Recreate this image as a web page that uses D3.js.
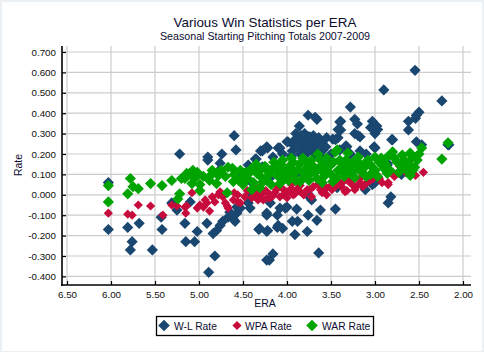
<!DOCTYPE html>
<html>
<head>
<meta charset="utf-8">
<script src="https://cdn.jsdelivr.net/npm/d3@7"></script>
<style>
  body { margin: 0; background: #eaf0f4; }
  svg { display: block; font-family: 'Liberation Sans', Arial, sans-serif; }
</style>
</head>
<body>
<svg id="chart" width="484" height="352"></svg>
<script>
// [ERA, rate] pairs
const wlRate = [
  [4.60,0.29],[5.22,0.20],[4.90,0.185],[4.74,0.20],[4.58,0.22],[4.30,0.215],[4.23,0.235],[4.35,0.175],[4.76,0.155],
  [2.545,0.61],[2.90,0.514],[2.24,0.46],[2.50,0.405],[2.53,0.39],[2.62,0.36],[2.62,0.318],[3.28,0.43],[3.68,0.38],
  [3.66,0.37],[3.86,0.337],[3.39,0.36],[3.23,0.37],[3.20,0.347],[3.03,0.36],[3.05,0.33],[2.98,0.337],[3.00,0.30],
  [3.39,0.318],[3.23,0.30],[3.17,0.284],[3.42,0.28],[3.48,0.273],[3.33,0.24],[3.59,0.24],[3.74,0.284],[3.82,0.273],
  [3.70,0.27],[3.99,0.26],[3.93,0.245],[4.10,0.23],[4.28,0.215],[4.16,0.185],[2.80,0.27],[3.01,0.235],[2.53,0.26],
  [2.47,0.245],[2.17,0.245],[3.82,0.22],[3.59,0.22],[4.77,0.12],[4.36,0.175],[4.22,0.23],[4.08,0.23],[4.00,0.26],
  [3.91,0.27],[3.94,0.215],[3.82,0.254],[3.77,0.205],[4.44,0.146],[4.28,0.137],[3.76,0.39],[2.54,0.375],[3.40,0.357],
  [2.97,0.32],[3.19,0.29],[3.42,0.32],[3.45,0.27],[3.56,0.235],[3.32,0.235],[3.17,0.215],[3.00,0.23],[2.81,0.27],
  [3.76,0.284],[3.72,0.254],[3.59,0.17],[2.86,0.146],[2.16,0.245],
  [3.80,0.30],[3.75,0.26],[3.70,0.23],[3.65,0.25],[3.78,0.24],[3.68,0.20],[3.62,0.19],[3.85,0.20],[3.70,0.29],[3.64,0.28],
  [3.90,0.30],[3.84,0.29],[3.80,0.27],[3.73,0.22],[3.66,0.21],[3.60,0.26],[3.55,0.28],[3.88,0.24],[4.05,0.20],
  [3.95,0.19],[3.50,0.20],[3.40,0.22],[3.28,0.20],[3.10,0.20],
  [4.90,0.17],[4.50,0.10],[4.00,0.12],[3.50,0.15],[3.20,0.13],[2.86,0.155],[3.30,0.10],[4.20,0.08],[6.03,0.06],
  [2.70,0.10],[2.60,0.14],[4.40,0.06],[3.90,0.10],[3.60,0.12],
  [6.03,-0.17],[5.81,-0.16],[5.68,-0.14],[5.76,-0.23],[5.78,-0.27],[5.53,-0.27],[5.42,-0.17],[5.43,-0.11],[5.31,-0.04],
  [5.25,-0.075],[5.16,-0.14],[5.15,-0.23],[5.05,-0.23],[5.02,-0.18],[4.91,-0.14],[4.82,-0.30],[4.89,-0.38],[4.80,-0.175],
  [4.84,-0.19],[4.73,-0.13],[4.67,-0.11],[4.57,-0.09],[4.61,-0.12],[4.57,-0.06],[4.44,-0.04],[4.42,-0.065],[4.32,-0.17],
  [4.23,-0.18],[4.23,-0.32],[4.34,-0.01],[4.76,-0.15],[4.59,-0.13],[4.65,-0.085],[4.53,-0.065],[4.31,-0.165],[4.22,-0.175],
  [4.16,-0.29],[4.20,-0.32],[4.23,-0.10],[4.11,-0.10],[4.08,-0.065],[4.00,-0.06],[4.11,-0.16],[4.05,-0.165],[3.91,-0.195],
  [3.89,-0.07],[3.88,-0.13],[3.77,-0.18],[3.77,0.0],[5.10,-0.035],[4.42,0.01],[3.76,-0.10],[3.62,-0.075],[3.66,-0.125],
  [3.64,-0.285],[3.45,-0.07],[2.82,-0.01],[2.85,-0.04],[3.72,-0.025],[3.76,0.005],[3.43,0.035],[3.11,0.025],[3.03,0.05],
  [3.94,-0.13],[4.10,-0.15],[4.23,-0.09],[4.02,-0.065],[3.00,0.06],[4.19,-0.04]
];

const wpaRate = [
  [6.03,-0.09],[5.81,-0.095],[5.76,-0.10],[5.69,-0.05],[5.55,-0.055],[5.41,-0.10],[5.31,-0.05],[5.25,-0.055],[5.15,-0.09],
  [5.16,-0.06],[5.08,0.01],[5.02,-0.065],[4.99,-0.05],[4.91,-0.04],[4.85,-0.01],[4.82,-0.035],[4.76,0.01],[4.68,-0.055],
  [4.61,-0.025],[4.56,-0.035],[4.40,-0.015],[4.33,-0.025],[4.27,0.01],[4.22,-0.015],[5.14,-0.055],[4.93,-0.025],
  [4.88,-0.08],[4.78,0.0],[4.73,-0.01],[4.67,-0.065],[4.56,0.0],[4.53,-0.04],[4.34,0.0],[4.19,-0.015],[4.14,0.01],
  [4.08,-0.01],[4.00,0.015],[3.93,0.0],[3.85,0.015],[3.77,0.025],[4.00,-0.015],[4.76,0.015],[3.72,-0.01],[3.55,0.0],
  [3.62,0.025],[3.45,0.04],[3.32,0.02],[3.23,0.025],[3.14,0.04],[2.85,0.05],[4.27,-0.025],[4.19,0.0],[4.02,0.005],
  [3.91,0.005],[3.74,0.025],[3.55,0.035],[3.49,0.025],[3.36,0.065],[3.34,0.015],[3.17,0.06],[3.09,0.06],[2.98,0.10],
  [2.85,0.06],[2.69,0.13],[2.58,0.135],[3.43,0.06],[3.28,0.06],[2.54,0.095],[3.31,0.07],[3.17,0.08],[2.58,0.18],
  [2.72,0.14],[4.05,0.03],[4.34,0.03],[2.45,0.11],
  [4.45,0.02],[4.10,0.04],[3.95,0.03],[3.65,0.05],[3.85,0.045],[4.60,0.01],[3.60,0.01],[3.40,0.05],[3.20,0.045],
  [3.05,0.07],[2.95,0.08],[2.78,0.09],[2.65,0.11],
  [4.48,-0.01],[4.38,0.01],[4.30,-0.01],[4.24,0.02],[4.16,-0.005],[4.12,0.025],[4.04,0.0],[3.97,0.02],[3.88,0.03],
  [3.81,0.0],[3.70,0.04],[3.58,0.02],[3.50,0.045],[3.38,0.04],[3.26,0.05],[3.12,0.05],[3.02,0.08],[2.92,0.06],
  [2.80,0.11],[2.62,0.12],[4.70,-0.04],[4.95,-0.06],[3.95,0.05],[3.60,0.055],[3.25,0.075]
];

const warRate = [
  [6.03,0.045],[6.03,-0.035],[5.78,0.08],[5.81,0.005],[5.75,0.04],[5.69,0.03],[5.55,0.055],[5.42,0.045],[5.31,0.07],
  [5.22,0.005],[5.24,-0.02],[5.16,0.08],[5.10,0.105],[5.02,0.11],[5.08,0.055],[4.99,0.05],[4.99,0.02],[4.88,0.07],
  [4.80,0.055],[4.78,0.095],[4.67,0.135],[4.68,0.01],[4.61,0.065],[4.53,0.12],[4.45,0.08],[4.40,0.025],[4.34,0.105],
  [4.27,0.065],[4.23,0.12],[5.14,0.105],[5.07,0.12],[5.20,0.08],[4.88,0.09],[4.80,0.105],[4.42,0.11],[4.31,0.12],
  [4.16,0.13],[4.05,0.17],[3.93,0.16],[3.82,0.18],[3.77,0.16],[3.45,0.21],[3.72,0.17],[3.60,0.145],[3.31,0.205],
  [3.19,0.185],[3.00,0.185],[2.86,0.185],[2.80,0.21],[2.69,0.195],[2.60,0.205],[2.47,0.23],[2.52,0.17],[2.62,0.155],
  [2.57,0.12],[2.60,0.095],[2.86,0.11],[3.03,0.135],[3.23,0.085],[3.42,0.12],[3.57,0.105],[3.72,0.11],[3.38,0.155],
  [3.11,0.155],[2.92,0.145],[2.17,0.255],[2.24,0.175],[4.23,0.07],[4.08,0.055],[3.93,0.09],[3.74,0.105],[3.55,0.12],
  [3.36,0.135],[3.17,0.145],[2.86,0.105],[2.64,0.12],[2.55,0.135],[4.31,0.035],[3.85,0.065],[3.66,0.08],[3.48,0.065],
  [4.50,0.05],[4.35,0.15],[4.20,0.10],[4.10,0.09],[4.00,0.11],[3.95,0.13],[3.88,0.12],[3.80,0.09],[3.70,0.14],
  [3.62,0.17],[3.55,0.18],[3.50,0.10],[3.40,0.17],[3.30,0.13],[3.25,0.16],[3.15,0.11],[3.08,0.17],[3.05,0.10],
  [2.95,0.16],[2.90,0.13],[2.75,0.16],[2.70,0.14],[4.15,0.16],[4.05,0.12],[3.98,0.07],[3.60,0.06],[3.35,0.09],
  [4.40,0.13],[4.60,0.10],[4.48,0.09],[3.43,0.22],[3.65,0.20],[3.95,0.18],
  [4.70,0.09],[4.62,0.13],[4.55,0.07],[4.47,0.11],[4.38,0.06],[4.30,0.09],[4.25,0.14],[4.18,0.05],[4.12,0.12],
  [4.07,0.15],[4.02,0.08],[3.97,0.14],[3.90,0.07],[3.86,0.15],[3.82,0.11],[3.78,0.13],[3.75,0.07],[3.68,0.11],
  [3.64,0.13],[3.58,0.09],[3.52,0.14],[3.47,0.16],[3.44,0.08],[3.38,0.11],[3.33,0.17],[3.27,0.10],[3.22,0.13],
  [3.19,0.16],[3.13,0.13],[3.10,0.09],[3.06,0.15],[3.00,0.12],[2.97,0.09],[2.93,0.18],[2.88,0.15],[2.83,0.12],
  [2.78,0.18],[2.73,0.11],[2.67,0.17],[2.63,0.13],[2.58,0.19],[2.50,0.20],[4.85,0.12],[4.95,0.09],[5.05,0.08],[4.75,0.12]
];

const xTicks = [6.5, 6.0, 5.5, 5.0, 4.5, 4.0, 3.5, 3.0, 2.5, 2.0];
const yTicks = [0.7, 0.6, 0.5, 0.4, 0.3, 0.2, 0.1, 0.0, -0.1, -0.2, -0.3, -0.4];
const seriesNames = ['W-L Rate', 'WPA Rate', 'WAR Rate'];
const seriesColors = ['#1a476f', '#c70c3d', '#00a400'];

const width = 484, height = 352;
const plot = { left: 62, right: 471, top: 46, bottom: 285 };

const svg = d3.select('#chart');

svg.append('rect').attr('width', width).attr('height', height).attr('fill', '#eaf0f4');
svg.append('rect').attr('x', 2).attr('y', 2).attr('width', 480).attr('height', 349).attr('fill', '#fff');

const x = d3.scaleLinear().domain([6.5, 2.0]).range([67, 463]);
const y = d3.scaleLinear().domain([-0.4, 0.7]).range([276.4, 52]);

// grid
const grid = svg.append('g').attr('stroke', '#cccccc').attr('stroke-width', 1.2);
grid.selectAll('.gx').data(xTicks).enter().append('line')
  .attr('x1', d => x(d)).attr('x2', d => x(d))
  .attr('y1', plot.top).attr('y2', plot.bottom);
grid.selectAll('.gy').data(yTicks).enter().append('line')
  .attr('x1', plot.left).attr('x2', plot.right)
  .attr('y1', d => y(d)).attr('y2', d => y(d));

// points: W-L first, then WPA, then WAR on top
const diamond = r => d3.symbol().type(d3.symbolSquare).size(2 * r * r)();
const series = [
  { data: wlRate, color: seriesColors[0], r: 5.6 },
  { data: wpaRate, color: seriesColors[1], r: 4.6 },
  { data: warRate, color: seriesColors[2], r: 5.6 }
];
series.forEach(s => {
  svg.append('g').selectAll('path')
    .data(s.data).enter().append('path')
    .attr('d', diamond(s.r))
    .attr('fill', s.color)
    .attr('transform', d => `translate(${x(d[0])},${y(d[1])}) rotate(45)`);
});

// axes
const yAxis = d3.axisLeft(y).tickValues(yTicks).tickSize(-4).tickPadding(6)
  .tickFormat(d => d.toFixed(3));
const xAxis = d3.axisBottom(x).tickValues(xTicks).tickSize(-4).tickPadding(6)
  .tickFormat(d => d.toFixed(2));

const gy = svg.append('g').attr('transform', `translate(${plot.left},0)`).call(yAxis);
const gx = svg.append('g').attr('transform', `translate(0,${plot.bottom})`).call(xAxis);
[gy, gx].forEach(g => {
  g.select('.domain').remove();
  g.selectAll('.tick line').attr('stroke', '#000').attr('stroke-width', 1.2);
  g.selectAll('.tick text').attr('fill', '#111').style('font-size', '9.8px')
    .style('font-family', "'Liberation Sans', Arial, sans-serif");
});

svg.append('line').attr('x1', plot.left).attr('x2', plot.left)
  .attr('y1', plot.top).attr('y2', plot.bottom + 1)
  .attr('stroke', '#000').attr('stroke-width', 1.6);
svg.append('line').attr('x1', plot.left - 1).attr('x2', plot.right)
  .attr('y1', plot.bottom).attr('y2', plot.bottom)
  .attr('stroke', '#000').attr('stroke-width', 1.6);

// titles
svg.append('text').attr('x', 265).attr('y', 27).attr('text-anchor', 'middle')
  .style('font-size', '13.4px').attr('fill', '#0c0c30')
  .text('Various Win Statistics per ERA');
svg.append('text').attr('x', 265).attr('y', 39.5).attr('text-anchor', 'middle')
  .style('font-size', '10.7px').attr('fill', '#0c0c30')
  .text('Seasonal Starting Pitching Totals 2007-2009');

svg.append('text').attr('x', 265).attr('y', 307).attr('text-anchor', 'middle')
  .style('font-size', '10.5px').attr('fill', '#0c0c30').text('ERA');
svg.append('text').attr('transform', 'translate(22,165) rotate(-90)').attr('text-anchor', 'middle')
  .style('font-size', '10.5px').attr('fill', '#0c0c30').text('Rate');

// legend
const legend = svg.append('g');
legend.append('rect').attr('x', 156.5).attr('y', 316.5).attr('width', 217).attr('height', 19)
  .attr('fill', '#fff').attr('stroke', '#000').attr('stroke-width', 1.3);
const legendX = [164, 237, 312];
seriesNames.forEach((name, i) => {
  legend.append('path')
    .attr('d', diamond(i === 1 ? 4.6 : 5.8))
    .attr('fill', seriesColors[i])
    .attr('transform', `translate(${legendX[i]},325.5) rotate(45)`);
  legend.append('text').attr('x', legendX[i] + 10 - (i === 1 ? 2 : 0)).attr('y', 329.5)
    .style('font-size', '10.3px').attr('fill', '#0c0c30').text(name);
});
</script>
</body>
</html>
